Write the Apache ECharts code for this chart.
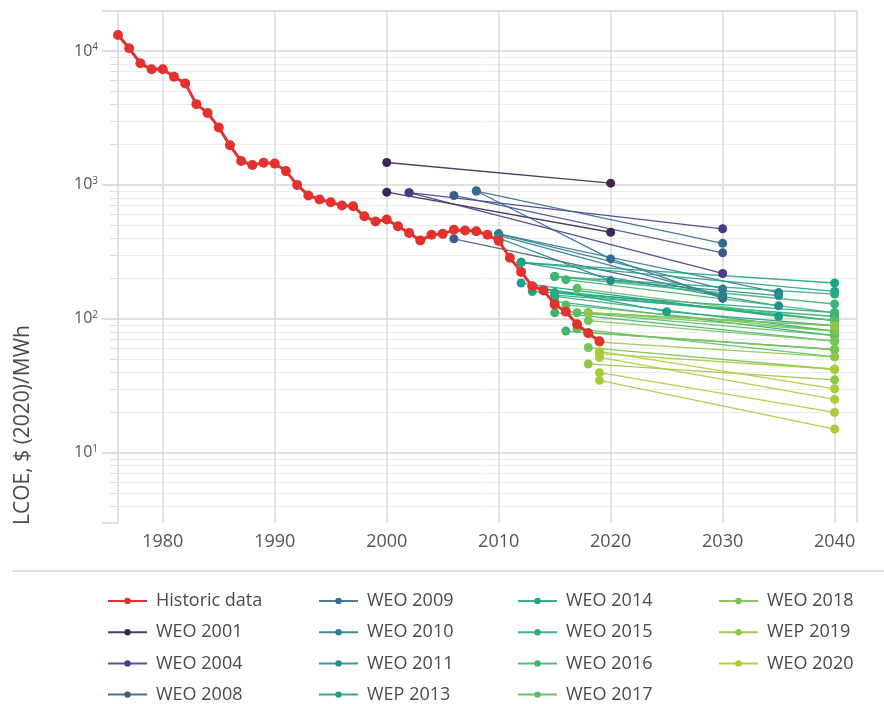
<!DOCTYPE html>
<html>
<head>
<meta charset="utf-8">
<script src="https://cdn.jsdelivr.net/npm/echarts@6/dist/echarts.min.js"></script>
<style>html,body{margin:0;padding:0;background:#fff}#c{width:884px;height:704px}</style>
</head>
<body>
<div id="c"></div>
<script>
// ---- data ----
const historicYears = [1976,1977,1978,1979,1980,1981,1982,1983,1984,1985,1986,1987,1988,1989,1990,1991,1992,1993,1994,1995,1996,1997,1998,1999,2000,2001,2002,2003,2004,2005,2006,2007,2008,2009,2010,2011,2012,2013,2014,2015,2016,2017,2018,2019];
const historicValues = [13180,10470,8090,7300,7300,6420,5730,4010,3450,2680,1976,1508,1407,1465,1442,1268,1000,834,778,743,702,693,583,533,552,491,438,384,424,431,462,456,451,424,382,286,224,175,163,128,113,91,78,68];

const weo2001 = [[[2000,1470],[2020,1030]], [[2000,883],[2020,443]]];
const weo2004 = [[[2002,875],[2030,470]], [[2002,875],[2030,218]]];
const weo2008 = [[[2006,834],[2030,311]], [[2006,396],[2030,149]]];
const weo2009 = [[[2008,900],[2030,366]], [[2008,900],[2020,280],[2030,142]]];
const weo2010 = [[[2010,431],[2030,167]], [[2010,431],[2035,157]], [[2010,420],[2030,149]]];
const weo2011 = [[[2010,400],[2020,193],[2035,149]], [[2012,264],[2035,125]]];
const wep2013 = [[[2012,185],[2035,104]], [[2013,175],[2025,113],[2040,89]], [[2012,264],[2040,160]]];
const weo2014 = [[[2012,264],[2040,185]], [[2013,160],[2040,111]], [[2014,165],[2040,97]]];
const weo2015 = [[[2015,207],[2040,153]], [[2015,157],[2040,97]], [[2015,147],[2040,81]], [[2015,135],[2040,75]], [[2015,150],[2040,104]]];
const weo2016 = [[[2015,207],[2040,129]], [[2016,196],[2040,111]], [[2015,111],[2040,68]], [[2016,113],[2040,89]], [[2016,81],[2040,59]]];
const weo2017 = [[[2017,169],[2040,97]], [[2017,111],[2040,75]], [[2017,84],[2040,52]], [[2016,127],[2040,81]]];
const weo2018 = [[[2018,111],[2040,81]], [[2018,97],[2040,68]], [[2018,79],[2040,59]], [[2018,61],[2040,42]]];
const wep2019 = [[[2018,111],[2040,89]], [[2018,46],[2040,35]], [[2019,67],[2040,52]]];
const weo2020 = [[[2019,57],[2040,30]], [[2019,51.5],[2040,25]], [[2019,39.6],[2040,20]], [[2019,34.7],[2040,15]], [[2019,55],[2040,42]]];

const forecastNames = ['WEO 2001','WEO 2004','WEO 2008','WEO 2009','WEO 2010','WEO 2011','WEP 2013','WEO 2014','WEO 2015','WEO 2016','WEO 2017','WEO 2018','WEP 2019','WEO 2020'];
const forecastColors = ['#3f2456','#4a3a86','#3d5a8c','#356b8e','#2e7c8e','#278d8c','#21a089','#20a583','#2aac7b','#3eb572','#5abd62','#78c452','#90c845','#a8cc38'];
const forecastSegments = [weo2001,weo2004,weo2008,weo2009,weo2010,weo2011,wep2013,weo2014,weo2015,weo2016,weo2017,weo2018,wep2019,weo2020];

const historicName = 'Historic data';
const historicColor = '#e3312d';
const yAxisTitle = 'LCOE, $ (2020)/MWh';

// ---- chart ----
const FONT = "'Open Sans', 'Liberation Sans', sans-serif";
const series = [];
series.push({
  type: 'line', name: historicName,
  data: historicYears.map((y, i) => [y, historicValues[i]]),
  color: historicColor, lineStyle: { width: 3, color: historicColor },
  itemStyle: { color: historicColor },
  symbol: 'circle', symbolSize: 10, showAllSymbol: true, z: 10, animation: false
});
forecastSegments.forEach((segs, i) => {
  segs.forEach(seg => {
    series.push({
      type: 'line', name: forecastNames[i], data: seg,
      color: forecastColors[i],
      lineStyle: { width: 1.3, color: forecastColors[i], opacity: 0.9 },
      itemStyle: { color: forecastColors[i] },
      symbol: 'circle', symbolSize: 9, z: 3, animation: false
    });
  });
});

const allNames = [historicName].concat(forecastNames);
const legendCols = [allNames.slice(0,4), allNames.slice(4,8), allNames.slice(8,12), allNames.slice(12)];
const legendLefts = [107, 318, 517, 718];

const option = {
  backgroundColor: '#fff',
  animation: false,
  grid: { left: 118, right: 27, top: 10.7, bottom: 181.3 },
  xAxis: {
    type: 'value', min: 1976, max: 2042,
    axisLine: { show: false }, axisTick: { show: false },
    splitLine: { show: true, lineStyle: { color: '#dadada', width: 1.5 } },
    axisLabel: {
      margin: 10, fontSize: 18, color: '#555', fontFamily: FONT,
      formatter: v => (Math.round(v) % 10 === 0 ? String(Math.round(v)) : '')
    }
  },
  yAxis: {
    type: 'log', logBase: 10, min: 3, max: 20000,
    axisLine: { show: false },
    axisTick: { show: true, length: 16, lineStyle: { color: '#d4d4d4', width: 1.5 } },
    minorTick: { show: true, splitNumber: 9, length: 8, lineStyle: { color: '#dddddd' } },
    splitLine: { show: true, showMinLine: false, lineStyle: { color: '#d6d6d6', width: 1.5 } },
    minorSplitLine: { show: true, lineStyle: { color: '#ececec', width: 1 } },
    axisLabel: {
      margin: 20, color: '#555', fontFamily: FONT,
      formatter: v => {
        const e = Math.log10(v);
        if (Math.abs(e - Math.round(e)) < 1e-6 && Math.round(e) >= 1) return '{a|10}{b|' + Math.round(e) + '}';
        return '';
      },
      rich: {
        a: { fontSize: 16, color: '#555', fontFamily: FONT },
        b: { fontSize: 10, color: '#555', fontFamily: FONT, padding: [0, 0, 8, 0] }
      }
    }
  },
  legend: legendCols.map((d, i) => ({
    data: d, orient: 'vertical', left: legendLefts[i], top: 592, height: 125, padding: 0,
    itemWidth: 39, itemHeight: 8, itemGap: 13.2, selectedMode: false,
    textStyle: { fontSize: 18, lineHeight: 18, color: '#4a4a4a', fontFamily: FONT, padding: [0, 0, 0, 4] }
  })),
  graphic: [
    { type: 'text', x: 22.7, y: 425, rotation: Math.PI / 2,
      style: { text: yAxisTitle, fontSize: 21, fill: '#4a4a4a', fontFamily: FONT, align: 'center', verticalAlign: 'middle' } },
    { type: 'line', shape: { x1: 12, y1: 571, x2: 884, y2: 571 }, style: { stroke: '#d4d4d4', lineWidth: 1.5 } }
  ],
  series: series
};
const chart = echarts.init(document.getElementById('c'), null, { renderer: 'canvas' });
chart.setOption(option);
</script>
</body>
</html>
